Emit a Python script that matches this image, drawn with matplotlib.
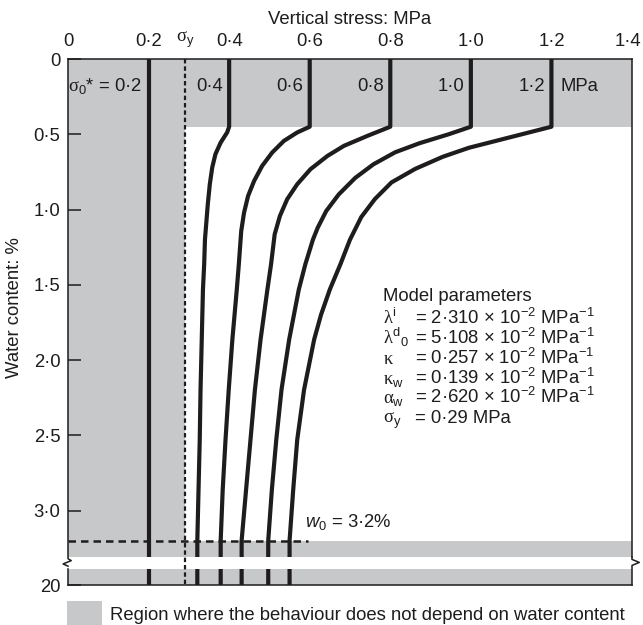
import matplotlib
matplotlib.use("Agg")
import matplotlib.pyplot as plt
from matplotlib.patches import Rectangle
from matplotlib.transforms import ScaledTranslation

plt.rcParams['font.family'] = ['Liberation Sans', 'DejaVu Sans']
plt.rcParams['mathtext.fontset'] = 'custom'
plt.rcParams['mathtext.rm'] = 'Liberation Serif'
plt.rcParams['mathtext.it'] = 'Liberation Sans:italic'
plt.rcParams['mathtext.default'] = 'regular'

# --- data -------------------------------------------------------------
x_ticks = [0, 0.2, 0.29, 0.4, 0.6, 0.8, 1.0, 1.2, 1.4]
x_tick_labels = ['0', '0·2', r'$\mathrm{\sigma}_y$', '0·4', '0·6', '0·8', '1·0', '1·2', '1·4']
y_ticks = [0, 0.5, 1.0, 1.5, 2.0, 2.5, 3.0]
y_tick_labels = ['0', '0·5', '1·0', '1·5', '2·0', '2·5', '3·0']

elastic_stress = 0.2      # sigma0* = 0.2 line (below sigma_y)
sigma_y = 0.29            # MPa
w0 = 3.2                  # initial water content, %
band_edge = 0.45          # water content where the curves leave the vertical
break_lo, break_hi = 3.31, 3.39
w_bottom = 3.495          # axis position standing for w = 20 %

sigma0_star = [0.4, 0.6, 0.8, 1.0, 1.2]
sigma0_labels = ['0·4', '0·6', '0·8', '1·0', '1·2']

water_04 = [0.45, 0.488, 0.555, 0.632, 0.721, 0.832, 0.965, 1.099, 1.198, 1.365,
            1.531, 1.864, 2.197, 2.530, 2.863, 3.2]
stress_04 = [0.400, 0.395, 0.379, 0.366, 0.358, 0.352, 0.347, 0.343, 0.340, 0.338,
             0.335, 0.332, 0.329, 0.327, 0.324, 0.321]

water_06 = [0.45, 0.488, 0.544, 0.621, 0.710, 0.810, 0.910, 1.021, 1.143, 1.365,
            1.531, 1.864, 2.197, 2.530, 2.863, 3.2]
stress_06 = [0.600, 0.569, 0.536, 0.507, 0.482, 0.462, 0.447, 0.437, 0.430, 0.424,
             0.419, 0.408, 0.399, 0.391, 0.384, 0.379]

water_08 = [0.45, 0.511, 0.577, 0.644, 0.732, 0.832, 0.932, 1.043, 1.165, 1.365,
            1.531, 1.864, 2.197, 2.530, 2.863, 3.2]
stress_08 = [0.800, 0.743, 0.685, 0.644, 0.602, 0.569, 0.544, 0.526, 0.513, 0.504,
             0.495, 0.478, 0.464, 0.453, 0.442, 0.431]

water_10 = [0.45, 0.50, 0.56, 0.62, 0.70, 0.79, 0.90, 1.01, 1.12, 1.20, 1.365,
            1.531, 1.864, 2.197, 2.530, 2.863, 3.2]
stress_10 = [1.000, 0.945, 0.872, 0.812, 0.758, 0.713, 0.672, 0.641, 0.620, 0.608, 0.589,
             0.573, 0.549, 0.530, 0.517, 0.506, 0.497]

water_12 = [0.45, 0.59, 0.65, 0.73, 0.82, 0.93, 1.05, 1.20, 1.365, 1.531, 1.70,
            1.864, 2.197, 2.530, 2.863, 3.2]
stress_12 = [1.200, 0.995, 0.930, 0.862, 0.803, 0.762, 0.728, 0.700, 0.676, 0.650, 0.628,
             0.611, 0.586, 0.569, 0.559, 0.550]

curves = [(water_04, stress_04), (water_06, stress_06), (water_08, stress_08),
          (water_10, stress_10), (water_12, stress_12)]

param_symbols = [r'$\mathrm{\lambda}^i$', r'$\mathrm{\lambda}^d{}_0$', r'$\mathrm{\kappa}$',
                 r'$\mathrm{\kappa}_w$', r'$\mathrm{\alpha}_w$', r'$\mathrm{\sigma}_y$']
param_values = ['= 2·310 × 10$^{-2}$ MPa$^{-1}$', '= 5·108 × 10$^{-2}$ MPa$^{-1}$',
                '= 0·257 × 10$^{-2}$ MPa$^{-1}$', '= 0·139 × 10$^{-2}$ MPa$^{-1}$',
                '= 2·620 × 10$^{-2}$ MPa$^{-1}$', '= 0·29 MPa']

# --- style -------------------------------------------------------------
grey = '#c7c8ca'
ink = '#1e1c1d'
fs = 13.3
W, H = 643, 625

fig = plt.figure(figsize=(W / 100, H / 100), dpi=100)
ax = fig.add_axes([68 / W, 1 - 585 / H, 564 / W, 526 / H])
ax.set_xlim(0, 1.4)
ax.set_ylim(w_bottom, 0)

# shaded zones where the response is independent of water content
ax.axhspan(0, band_edge, color=grey, lw=0, zorder=0)
ax.axvspan(0, sigma_y, color=grey, lw=0, zorder=0)
ax.axhspan(w0, w_bottom, color=grey, lw=0, zorder=0)

lw_curve = 3.0
ax.plot([elastic_stress, elastic_stress], [0, w_bottom], color=ink, lw=lw_curve,
        solid_capstyle='butt', zorder=2)
for s0, (water, stress) in zip(sigma0_star, curves):
    ww = [0] + water + [w_bottom]
    ss = [s0] + stress + [stress[-1]]
    ax.plot(ss, ww, color=ink, lw=lw_curve, solid_capstyle='butt',
            solid_joinstyle='round', zorder=2)

# axis break
ax.axhspan(break_lo, break_hi, color='white', lw=0, zorder=3)

ax.plot([sigma_y, sigma_y], [0, w_bottom], color=ink, lw=1.6,
        ls=(0, (2, 1.3)), zorder=4)
ax.plot([0, 0.595], [w0, w0], color=ink, lw=1.8, ls=(0, (3, 2)), zorder=4)

# spines, with zigzags at the break
for side in ['left', 'right']:
    ax.spines[side].set_visible(False)
for sp in ['top', 'bottom']:
    ax.spines[sp].set_linewidth(1.1)
    ax.spines[sp].set_color(ink)
spine_kw = dict(color=ink, lw=1.1, clip_on=False, zorder=5)
ax.plot([0, 0, 0.008, -0.012, 0], [0, 3.32, 3.333, 3.355, 3.37], **spine_kw)
ax.plot([0, 0], [break_hi, w_bottom], **spine_kw)
ax.plot([1.4, 1.4], [0, break_lo], **spine_kw)
ax.plot([1.4, 1.4, 1.418, 1.4, 1.4], [break_lo, 3.325, 3.345, 3.365, w_bottom], **spine_kw)

# ticks
ax.xaxis.tick_top()
ax.set_xticks(x_ticks)
ax.set_xticklabels(x_tick_labels)
ax.tick_params(axis='x', length=0, pad=6.5, labelsize=fs, colors=ink)
ax.set_yticks(y_ticks + [w_bottom])
ax.set_yticklabels(y_tick_labels + ['20'])
ax.tick_params(axis='y', direction='in', length=9.4, width=1.1, pad=5.5,
               labelsize=fs, colors=ink)

# labels inside the top band
lab_w = 0.213
ax.text(elastic_stress - 0.017, lab_w, r'$\mathrm{\sigma}_0$* = 0·2', ha='right',
        va='baseline', fontsize=fs, color=ink)
for s0, lab in zip(sigma0_star, sigma0_labels):
    ax.text(s0 - 0.016, lab_w, lab, ha='right', va='baseline', fontsize=fs, color=ink)
ax.text(1.222, lab_w, 'MPa', ha='left', va='baseline', fontsize=fs, color=ink)

ax.text(0.589, 3.109, r'$\mathit{w}_0$ = 3·2%', ha='left', va='baseline',
        fontsize=fs, color=ink, zorder=5)

# model parameter block
ax.text(0.783, 1.611, 'Model parameters', ha='left', va='baseline', fontsize=fs, color=ink)
row_w = [1.758, 1.891, 2.024, 2.157, 2.284, 2.417]
for w, sym, val in zip(row_w, param_symbols, param_values):
    ax.text(0.783, w, sym, ha='left', va='baseline', fontsize=fs, color=ink)
    ax.text(0.862, w, val, ha='left', va='baseline', fontsize=fs, color=ink)

fig.text(350 / W, 1 - 19 / H, 'Vertical stress: MPa', ha='center', va='center',
         fontsize=fs, color=ink)
fig.text(15 / W, 1 - 308 / H, 'Water content: %', ha='center', va='center',
         rotation=90, fontsize=fs, color=ink)

# key for the shaded zones
fig.add_artist(Rectangle((67 / W, 0), 35 / W, 24 / H, transform=fig.transFigure,
                         color=grey, lw=0))
fig.text(110 / W, 1 - 616 / H, 'Region where the behaviour does not depend on water content',
         ha='left', va='center', fontsize=fs, color=ink)

# pull the last top tick label in so it stays on the canvas
last = ax.xaxis.get_major_ticks()[-1].label2
last.set_transform(last.get_transform() + ScaledTranslation(-4 / 100, 0, fig.dpi_scale_trans))

fig.savefig('out.png', dpi=100)
